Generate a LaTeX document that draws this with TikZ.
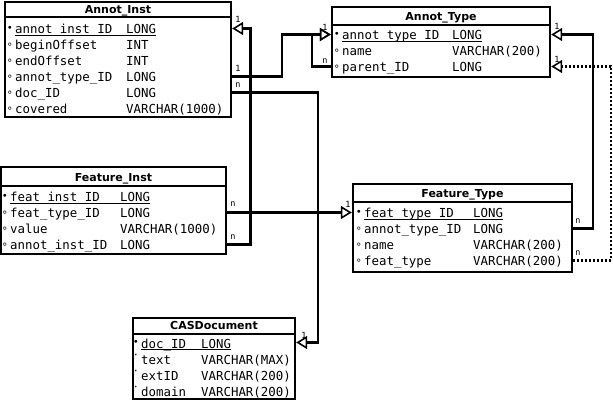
\documentclass[tikz,border=0pt]{standalone}
\usepackage{fontspec}
\setmainfont{DejaVu Sans}
\newfontfamily\tblmono{DejaVu Sans Mono}
\usepackage{tikz}
\usetikzlibrary{arrows.meta}

\begin{document}
\begin{tikzpicture}[x=1pt, y=-1pt,
        tbl/.style={draw, line width=2.4pt, inner sep=0pt, anchor=north west},
        hline/.style={line width=2.4pt},
        head/.style={anchor=base, inner sep=0pt, font=\bfseries\fontsize{11}{13}\selectfont},
        fld/.style={anchor=west, inner sep=0pt, text height=11pt, text depth=0pt, font=\tblmono\fontsize{12.4}{14}\selectfont},
        mk/.style={inner sep=0pt, label distance=2pt, font=\tblmono\fontsize{10}{10}\selectfont},
        pk/.style={fld, label={[mk]left:•}},
        attr/.style={fld, label={[mk, yshift=-2pt]left:°}},
        plain/.style={fld, label={[mk, yshift=2pt]left:·}},
        uline/.style={line width=1.2pt},
        rel/.style={line width=2.2pt, -{Triangle[open, length=11pt, width=13pt, line width=1.6pt]}},
        card/.style={inner sep=0pt, font=\tblmono\fontsize{8.5}{9}\selectfont}]

        \useasboundingbox (0,0) rectangle (613,403);

        \node[tbl, minimum width=226pt, minimum height=115pt] (annotinst) at (3.8,0.8) {};
        \draw[hline] (5,17) -- (231,17);
        \node[head] (annotinst-h) at (118,13.5) {Annot\_Inst};
        \node[pk]   (ai-id)      at (15,28.5)   {annot\_inst\_ID};
        \node[fld]  (ai-id-t)    at (126,28.5)  {LONG};
        \node[attr] (ai-begin)   at (15,44.5)   {beginOffset};
        \node[fld]  (ai-begin-t) at (126,44.5)  {INT};
        \node[attr] (ai-end)     at (15,60.5)   {endOffset};
        \node[fld]  (ai-end-t)   at (126,60.5)  {INT};
        \node[attr] (ai-type)    at (15,76.5)   {annot\_type\_ID};
        \node[fld]  (ai-type-t)  at (126,76.5)  {LONG};
        \node[attr] (ai-doc)     at (15,92.5)   {doc\_ID};
        \node[fld]  (ai-doc-t)   at (126,92.5)  {LONG};
        \node[attr] (ai-cov)     at (15,108.5)  {covered};
        \node[fld]  (ai-cov-t)   at (126,108.5) {VARCHAR(1000)};
        \draw[uline] ([yshift=-7pt]ai-id.west) -- ([yshift=-7pt]ai-id-t.east);

        \node[tbl, minimum width=218pt, minimum height=70pt] (annottype) at (330.8,5.8) {};
        \draw[hline] (332,25) -- (550,25);
        \node[head] (annottype-h) at (441,21) {Annot\_Type};
        \node[pk]   (at-id)     at (342,34.5) {annot\_type\_ID};
        \node[fld]  (at-id-t)   at (452,34.5) {LONG};
        \node[attr] (at-name)   at (342,50.5) {name};
        \node[fld]  (at-name-t) at (452,50.5) {VARCHAR(200)};
        \node[attr] (at-par)    at (342,66.5) {parent\_ID};
        \node[fld]  (at-par-t)  at (452,66.5) {LONG};
        \draw[uline] ([yshift=-7pt]at-id.west) -- ([yshift=-7pt]at-id-t.east);

        \node[tbl, minimum width=225pt, minimum height=87pt] (featinst) at (0,165.8) {};
        \draw[hline] (1.2,186) -- (226.2,186);
        \node[head] (featinst-h) at (113.5,182) {Feature\_Inst};
        \node[pk]   (fi-id)     at (10,196.5)  {feat\_inst\_ID};
        \node[fld]  (fi-id-t)   at (120,196.5) {LONG};
        \node[attr] (fi-ft)     at (10,212.5)  {feat\_type\_ID};
        \node[fld]  (fi-ft-t)   at (120,212.5) {LONG};
        \node[attr] (fi-val)    at (10,228.5)  {value};
        \node[fld]  (fi-val-t)  at (120,228.5) {VARCHAR(1000)};
        \node[attr] (fi-ai)     at (10,244.5)  {annot\_inst\_ID};
        \node[fld]  (fi-ai-t)   at (120,244.5) {LONG};
        \draw[uline] ([yshift=-7pt]fi-id.west) -- ([yshift=-7pt]fi-id-t.east);

        \node[tbl, minimum width=219pt, minimum height=88pt] (feattype) at (351.8,182.8) {};
        \draw[hline] (353,202) -- (572,202);
        \node[head] (feattype-h) at (462.5,198) {Feature\_Type};
        \node[pk]   (ft-id)      at (364,212.5) {feat\_type\_ID};
        \node[fld]  (ft-id-t)    at (473,212.5) {LONG};
        \node[attr] (ft-at)      at (364,228.5) {annot\_type\_ID};
        \node[fld]  (ft-at-t)    at (473,228.5) {LONG};
        \node[attr] (ft-name)    at (364,244.5) {name};
        \node[fld]  (ft-name-t)  at (473,244.5) {VARCHAR(200)};
        \node[attr] (ft-ftype)   at (364,260.5) {feat\_type};
        \node[fld]  (ft-ftype-t) at (473,260.5) {VARCHAR(200)};
        \draw[uline] ([yshift=-7pt]ft-id.west) -- ([yshift=-7pt]ft-id-t.east);

        \node[tbl, minimum width=162pt, minimum height=81pt] (casdoc) at (131.8,316.8) {};
        \draw[hline] (133,334) -- (295,334);
        \node[head] (casdoc-h) at (214,329.5) {CASDocument};
        \node[pk]    (cd-id)    at (141,342.5) {doc\_ID};
        \node[fld]   (cd-id-t)  at (201,342.5) {LONG};
        \node[plain] (cd-text)  at (141,358.5) {text};
        \node[fld]   (cd-text-t) at (201,358.5) {VARCHAR(MAX)};
        \node[plain] (cd-ext)   at (141,374.5) {extID};
        \node[fld]   (cd-ext-t) at (201,374.5) {VARCHAR(200)};
        \node[plain] (cd-dom)   at (141,390.5) {domain};
        \node[fld]   (cd-dom-t) at (201,390.5) {VARCHAR(200)};
        \draw[uline] ([yshift=-7pt]cd-id.west) -- ([yshift=-7pt]cd-id-t.east);

        \draw[rel] (featinst.east |- fi-ai) -- ++(23,0) |- (annotinst.east |- ai-id);
        \draw[rel] (annotinst.east |- ai-type) -- ++(50,0) |- (annottype.west |- at-id);
        \draw[rel] (annottype.west |- at-par) -- ++(-19,0) |- (annottype.west |- at-id);
        \draw[rel] (annotinst.east |- ai-doc) -- ++(86,0) |- (casdoc.east |- cd-id);
        \draw[rel] (featinst.east |- fi-ft) -- (feattype.west |- ft-id);
        \draw[rel] (feattype.east |- ft-at) -- ++(20,0) |- (annottype.east |- at-id);
        \draw[rel, dash pattern=on 2pt off 2pt] (feattype.east |- ft-ftype) -- ++(38,0) |- (annottype.east |- at-par);

        \node[card] (c-ai-id)   at (238,19)  {1};
        \node[card] (c-fi-ai)   at (233,237) {n};
        \node[card] (c-ai-type) at (238,68)  {1};
        \node[card] (c-ai-doc)  at (238,85)  {n};
        \node[card] (c-at-id)   at (325,27)  {1};
        \node[card] (c-at-par)  at (325,61)  {n};
        \node[card] (c-cd-id)   at (304,335) {1};
        \node[card] (c-fi-ft)   at (233,204) {n};
        \node[card] (c-ft-id)   at (348,204) {1};
        \node[card] (c-ft-at)   at (578,221) {n};
        \node[card] (c-at-id2)  at (557,26)  {1};
        \node[card] (c-ft-ftype) at (578,253) {n};
        \node[card] (c-at-par2) at (557,59)  {1};
\end{tikzpicture}
\end{document}
